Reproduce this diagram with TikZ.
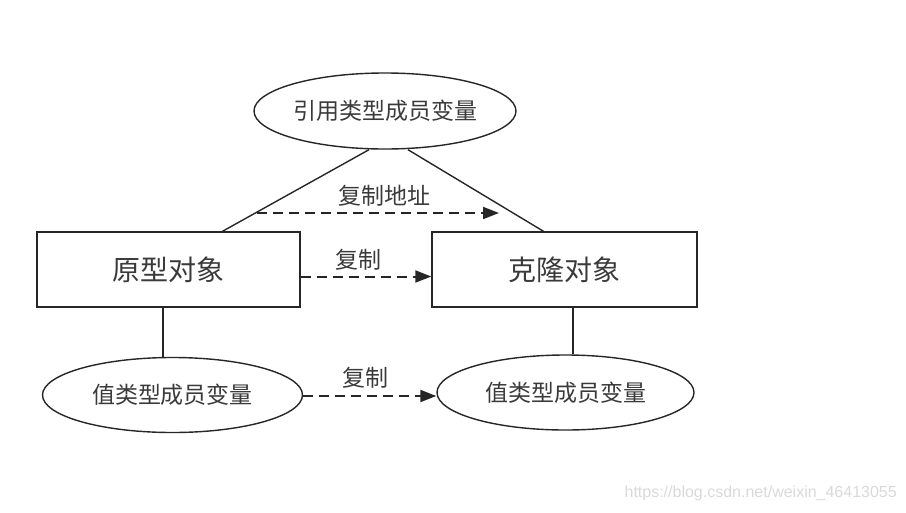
\documentclass[tikz,border=0pt]{standalone}
\usepackage{fontspec}
\setmainfont{Liberation Sans}
\newfontfamily\cjk{Noto Sans CJK SC}
\usetikzlibrary{arrows.meta,calc,shapes.geometric}
\definecolor{ink}{HTML}{262626}
\definecolor{txt}{HTML}{3A3A3A}
\definecolor{wm}{HTML}{D9D9D9}
\tikzset{
  ovalnode/.style={draw=ink, line width=1.4pt, ellipse, inner sep=0pt,
    font=\cjk\fontsize{23}{26}\selectfont, text=txt},
  boxnode/.style={draw=ink, line width=1.4pt, rectangle, inner sep=0pt,
    font=\cjk\fontsize{28}{32}\selectfont, text=txt},
  link/.style={draw=ink, line width=1.4pt},
  copyarrow/.style={draw=ink, line width=2pt, dash pattern=on 10pt off 6pt,
    -{Triangle[length=16pt,width=12pt]}},
  lbl/.style={font=\cjk\fontsize{23}{26}\selectfont, text=txt, inner sep=0pt}
}
\begin{document}
\begin{tikzpicture}[x=1pt,y=-1pt]
\useasboundingbox (0,0) rectangle (906,512);
\node[ovalnode, minimum width=262pt, minimum height=76pt] (ref) at (385,111) {引用类型成员变量};
\node[boxnode, minimum width=263pt, minimum height=75pt] (proto) at (168.5,269.5) {原型对象};
\node[boxnode, minimum width=265pt, minimum height=75pt] (clone) at (564.5,269.5) {克隆对象};
\node[ovalnode, minimum width=260pt, minimum height=75pt] (vl) at (172.5,395) {值类型成员变量};
\node[ovalnode, minimum width=257pt, minimum height=75pt] (vr) at (565.5,392.5) {值类型成员变量};
% lines from reference-member ellipse
\draw[link] ($(ref.south)+(-16,0)$) -- ($(proto.north)+(54,0)$);
\draw[link] ($(ref.south)+(23,0)$) -- ($(clone.north)+(-21,0)$);
% vertical links
\coordinate (pl) at ($(proto.south)+(-5.5,0)$);
\coordinate (cl) at ($(clone.south)+(8.5,0)$);
\draw[link] (pl) -- (pl |- vl.north);
\draw[link] (cl) -- (cl |- vr.north);
% copy arrows
\coordinate (as) at (257,213);
\coordinate (ae) at (499,213);
\draw[copyarrow] (as) -- (ae);
\node[lbl] (l1) at (384,196) {复制地址};
\coordinate (ms) at ($(proto.east)+(0,7)$);
\draw[copyarrow] (ms) -- (ms -| clone.west);
\node[lbl] (l2) at (358,260) {复制};
\coordinate (bs) at ($(vl.east)+(0,1)$);
\draw[copyarrow] (bs) -- (bs -| vr.west);
\node[lbl] (l3) at (365,378) {复制};
\node[font=\fontsize{16}{18}\selectfont, text=wm, anchor=east, inner sep=0pt] (wmk) at (897,493) {https://blog.csdn.net/weixin\_46413055};
\end{tikzpicture}
\end{document}
